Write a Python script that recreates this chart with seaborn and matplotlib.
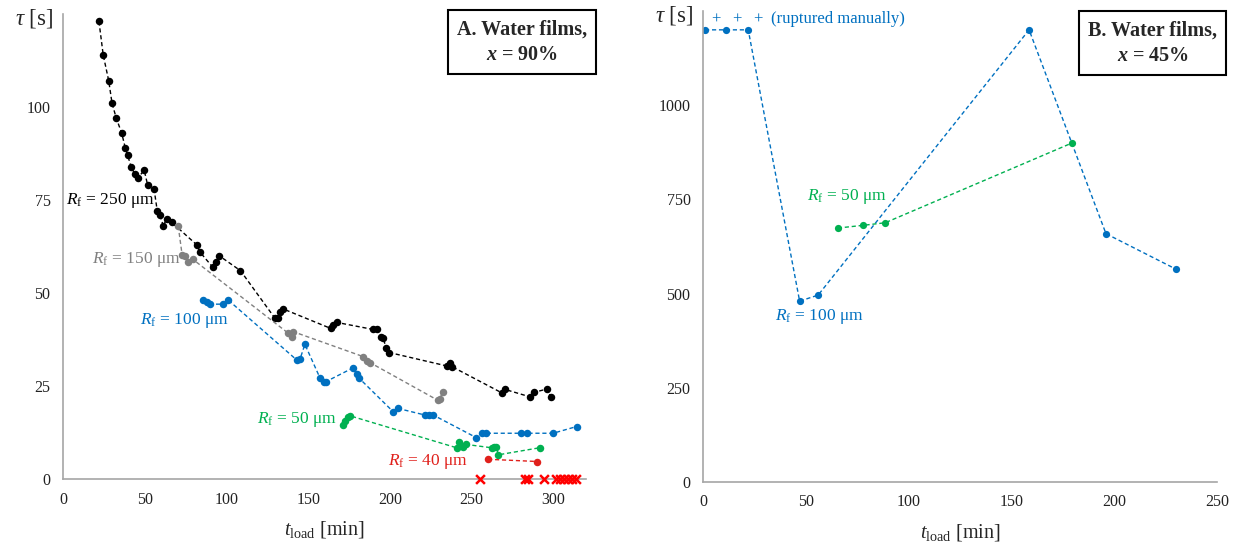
import matplotlib
matplotlib.use("Agg")
import matplotlib.pyplot as plt
import seaborn as sns
import pandas as pd

# ---------------- Panel A data (x = 90%) ----------------
a250_t = [22.0, 24.6, 28.0, 30.0, 32.6, 35.9, 38.1, 39.6, 41.6, 43.9, 45.9, 49.7, 51.8, 55.7,
          57.7, 59.3, 61.4, 63.4, 66.5, 81.7, 83.8, 91.5, 93.6, 95.6, 108.6, 129.7, 131.7,
          132.7, 134.8, 163.7, 165.5, 167.4, 189.8, 192.0, 194.5, 196.0, 197.6, 199.6,
          234.7, 236.7, 238.0, 268.3, 270.3, 285.6, 288.3, 296.2, 298.5]
a250_tau = [123, 114, 107, 101, 97, 93, 89, 87, 84, 82, 81, 83, 79, 78,
            72, 71, 68, 70, 69, 63, 61, 57, 58.4, 60, 56, 43.2, 43.2,
            45, 45.7, 40.5, 41.3, 42.1, 40.2, 40.2, 38.2, 38.0, 35.1, 34.0,
            30.4, 31.3, 30.2, 23.2, 24.1, 22.1, 23.3, 24.2, 22.0]

a150_t = [70.5, 72.9, 74.6, 76.6, 79.3, 137.8, 139.9, 140.9, 183.7, 186.1, 187.8, 229.2, 230.5, 232.2]
a150_tau = [68, 60.2, 59.9, 58.4, 59.1, 39.2, 38.3, 39.6, 32.9, 31.8, 31.3, 21.2, 21.5, 23.3]

a100_t = [85.8, 87.9, 90.0, 98.0, 101.1, 143.0, 145.0, 148.0, 157.2, 159.5, 161.0, 177.6, 179.6,
          181.2, 202.0, 204.7, 221.4, 224.0, 226.5, 253.0, 256.1, 258.7, 280.5, 283.6, 299.9, 314.2]
a100_tau = [48.1, 47.6, 47.0, 47.0, 48.1, 32.0, 32.2, 36.2, 27.2, 26.2, 26.2, 29.9, 28.1,
            27.1, 18.1, 19.0, 17.2, 17.2, 17.2, 11.1, 12.3, 12.3, 12.3, 12.3, 12.3, 14.1]

a50_t = [171.4, 172.5, 174.5, 175.5, 240.8, 242.4, 244.8, 246.5, 262.2, 264.0, 265.2, 266.3, 291.7]
a50_tau = [14.5, 15.5, 16.7, 17.0, 8.4, 10.0, 8.7, 9.3, 8.4, 8.6, 8.7, 6.5, 8.4]

a40_t = [260.1, 290.3]
a40_tau = [5.3, 4.7]

a40x_t = [255.0, 282.6, 284.6, 294.2, 301.5, 303.9, 306.4, 308.8, 311.3, 313.8]
a40x_tau = [0, 0, 0, 0, 0, 0, 0, 0, 0, 0]

a_xticks = [0, 50, 100, 150, 200, 250, 300]
a_yticks = [0, 25, 50, 75, 100, 125]

# ---------------- Panel B data (x = 45%) ----------------
b100_t = [1, 11, 22, 47, 56, 158.6, 196, 230]
b100_tau = [1200, 1200, 1200, 480, 496, 1200, 659, 565]

b50_t = [65.6, 77.6, 88.6, 179.6]
b50_tau = [674, 681, 688, 900]

b_xticks = [0, 50, 100, 150, 200, 250]
b_yticks = [0, 250, 500, 750, 1000, 1250]

# colours
C250, C150, C100, C50, C40 = "#000000", "#808080", "#0070C0", "#00B050", "#E0201B"

sns.set_style("white")
plt.rcParams["font.family"] = ["Liberation Serif", "DejaVu Serif"]
plt.rcParams["mathtext.fontset"] = "custom"
plt.rcParams["mathtext.rm"] = "Liberation Serif"
plt.rcParams["mathtext.it"] = "Liberation Serif:italic"
plt.rcParams["mathtext.bf"] = "Liberation Serif:bold"
plt.rcParams["mathtext.bfit"] = "Liberation Serif:italic:bold"

fig = plt.figure(figsize=(12.36, 5.46), dpi=100)
axA = fig.add_axes([63 / 1236, 67 / 546, 523 / 1236, 465 / 546])
axB = fig.add_axes([703 / 1236, 64 / 546, 514 / 1236, 471 / 546])

DASH = (0, (3, 2))


def series(ax, t, tau, color, ms=5.4):
    df = pd.DataFrame({"t": t, "tau": tau})
    sns.lineplot(data=df, x="t", y="tau", ax=ax, sort=False, estimator=None,
                 color=color, linestyle=DASH, linewidth=1.0, marker="o",
                 markersize=ms, markeredgewidth=0, markerfacecolor=color)


series(axA, a250_t, a250_tau, C250)
series(axA, a150_t, a150_tau, C150)
series(axA, a100_t, a100_tau, C100)
series(axA, a50_t, a50_tau, C50)
series(axA, a40_t, a40_tau, C40)
sns.scatterplot(x=a40x_t, y=a40x_tau, ax=axA, marker="x", color="#FF0000", s=40,
                linewidth=1.8, zorder=5, clip_on=False)

series(axB, b100_t, b100_tau, C100, ms=5.2)
series(axB, b50_t, b50_tau, C50, ms=5.2)


def style(ax, xt, yt, xmax, ymax):
    ax.set_xlim(0, xmax)
    ax.set_ylim(0, ymax)
    ax.set_xticks(xt)
    ax.set_yticks(yt)
    ax.set_xticklabels([str(v) for v in xt])
    ax.set_yticklabels([str(v) for v in yt[:-1]] + [""])
    for s in ["top", "right"]:
        ax.spines[s].set_visible(False)
    for s in ["left", "bottom"]:
        ax.spines[s].set_color("#A6A6A6")
        ax.spines[s].set_linewidth(1.2)
    ax.tick_params(axis="both", direction="out", length=5, width=1, color="#A6A6A6",
                   labelsize=11.5, labelcolor="#222222", pad=4)
    ax.set_xlabel(r"$t_\mathrm{load}$ [min]", fontsize=14.5, labelpad=8)
    ax.set_ylabel("")
    ax.annotate(r"$\tau$ [s]", xy=(0, 1), xycoords="axes fraction", xytext=(-7, -3),
                textcoords="offset points", ha="right", va="center", fontsize=16.5)


style(axA, a_xticks, a_yticks, 320, 125)
style(axB, b_xticks, b_yticks, 250, 1250)

lab = dict(fontsize=12.5, ha="left", va="center")
axA.text(2, 75, r"$R_\mathrm{f}$ = 250 μm", color=C250, **lab)
axA.text(18, 59, r"$R_\mathrm{f}$ = 150 μm", color=C150, **lab)
axA.text(47, 42.7, r"$R_\mathrm{f}$ = 100 μm", color=C100, **lab)
axA.text(119, 15.9, r"$R_\mathrm{f}$ = 50 μm", color=C50, **lab)
axA.text(199, 4.8, r"$R_\mathrm{f}$ = 40 μm", color=C40, **lab)

axB.text(50.6, 759, r"$R_\mathrm{f}$ = 50 μm", color=C50, **lab)
axB.text(35, 440, r"$R_\mathrm{f}$ = 100 μm", color=C100, **lab)
for xp in [6.2, 16.3, 26.8]:
    axB.text(xp, 1228, "+", color=C100, fontsize=12, ha="center", va="center")
axB.text(33, 1228, "(ruptured manually)", color=C100, fontsize=12, ha="left", va="center")

box = dict(boxstyle="square,pad=0.45", facecolor="white", edgecolor="black", linewidth=1.5)
axA.text(0.878, 0.94, "A. Water films,\n" + r"$\mathbfit{x}$ = 90%", transform=axA.transAxes,
         ha="center", va="center", multialignment="center", fontsize=14.5,
         fontweight="bold", bbox=box, linespacing=1.35)
axB.text(0.875, 0.932, "B. Water films,\n" + r"$\mathbfit{x}$ = 45%", transform=axB.transAxes,
         ha="center", va="center", multialignment="center", fontsize=14.5,
         fontweight="bold", bbox=box, linespacing=1.35)

fig.savefig("out.png", dpi=100, facecolor="white")
